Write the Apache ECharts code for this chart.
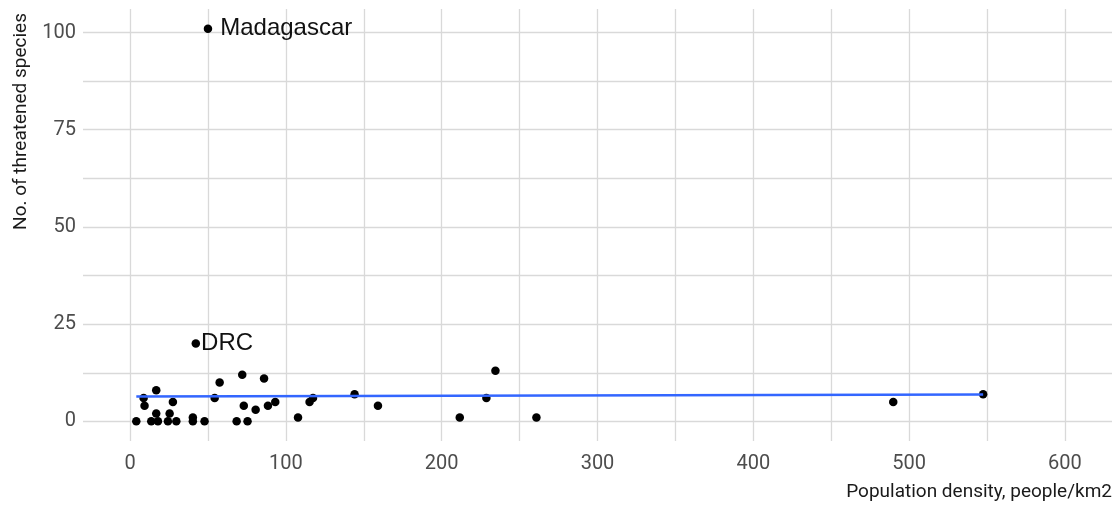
<!DOCTYPE html>
<html><head><meta charset="utf-8">
<script src="https://cdn.jsdelivr.net/npm/echarts@6/dist/echarts.min.js"></script>
<style>html,body{margin:0;padding:0;background:#fff}#c{width:1120px;height:508px}</style>
</head><body><div id="c"></div>
<script>
// Population density (people/km2) and number of threatened species per country
const density = [4, 8.7, 9.3, 13.6, 16.8, 16.8, 17.9, 24.3, 25.4, 27.5, 29.7, 40.3, 40.3, 42.2, 47.8, 50, 54.3, 57.5, 68.4, 72, 73, 75.4, 80.6, 86, 88.5, 93.2, 107.8, 115.2, 117.4, 144.1, 159.1, 211.6, 228.7, 234.5, 260.8, 489.8, 547.5];
const threatened = [0, 6, 4, 0, 8, 2, 0, 0, 2, 5, 0, 1, 0, 20, 0, 101, 6, 10, 0, 12, 4, 0, 3, 11, 4, 5, 1, 5, 6, 7, 4, 1, 6, 13, 1, 5, 7];
const labelNames = ['DRC', 'Madagascar'];
const labelIdx = [13, 15];
const labelGap = [1, 8];
// linear trend
const trendDensity = [4, 547.5];
const trendThreatened = [6.4, 6.9];
// ticks
const xTicks = [0, 100, 200, 300, 400, 500, 600];
const xMinorTicks = [50, 150, 250, 350, 450, 550];
const yTicks = [0, 25, 50, 75, 100];
const yMinorTicks = [12.5, 37.5, 62.5, 87.5];

const gridColor = '#d9d9d9';
const pts = density.map((d, i) => {
  const k = labelIdx.indexOf(i);
  const o = { value: [d, threatened[i]] };
  if (k >= 0) {
    o.label = { show: true, formatter: labelNames[k], position: 'right', distance: labelGap[k] };
  }
  return o;
});

function xAx(ticks, main) {
  return {
    type: 'value', min: -30.2, max: 630.2, position: main ? 'bottom' : 'top',
    axisLine: { show: false }, axisTick: { show: false, customValues: ticks },
    axisLabel: { show: main, customValues: ticks, color: '#4d4d4d', fontFamily: 'Roboto', fontSize: 20, margin: 13 },
    splitLine: { show: true, lineStyle: { color: gridColor, width: 1.3 } }
  };
}
function yAx(ticks, main) {
  return {
    type: 'value', min: -5.05, max: 106.05, position: main ? 'left' : 'right',
    axisLine: { show: false }, axisTick: { show: false, customValues: ticks },
    axisLabel: { show: main, customValues: ticks, color: '#4d4d4d', fontFamily: 'Roboto', fontSize: 20, margin: 7 },
    splitLine: { show: true, lineStyle: { color: gridColor, width: 1.3 } }
  };
}

const chart = echarts.init(document.getElementById('c'), null, { renderer: 'canvas' });
chart.setOption({
  animation: false,
  backgroundColor: '#ffffff',
  grid: { left: 83, right: 8, top: 9, bottom: 67 },
  xAxis: [xAx(xTicks, true), xAx(xMinorTicks, false)],
  yAxis: [yAx(yTicks, true), yAx(yMinorTicks, false)],
  graphic: [
    { type: 'text', x: 21, y: 13, rotation: Math.PI / 2,
      style: { text: 'No. of threatened species', align: 'right', verticalAlign: 'middle', font: '19px Roboto', fill: '#1a1a1a' } },
    { type: 'text', x: 1112, y: 492,
      style: { text: 'Population density, people/km2', align: 'right', verticalAlign: 'middle', font: '19px Roboto', fill: '#1a1a1a' } }
  ],
  series: [
    {
      type: 'scatter', xAxisIndex: 0, yAxisIndex: 0, symbolSize: 8.5, z: 2,
      itemStyle: { color: '#000000', opacity: 1 },
      label: { color: '#111111', fontFamily: 'Liberation Sans', fontSize: 24 },
      data: pts
    },
    {
      type: 'line', xAxisIndex: 0, yAxisIndex: 0, z: 3, symbol: 'none',
      lineStyle: { color: '#3366ff', width: 2.6 },
      data: trendDensity.map((d, i) => [d, trendThreatened[i]])
    }
  ]
});
</script></body></html>
